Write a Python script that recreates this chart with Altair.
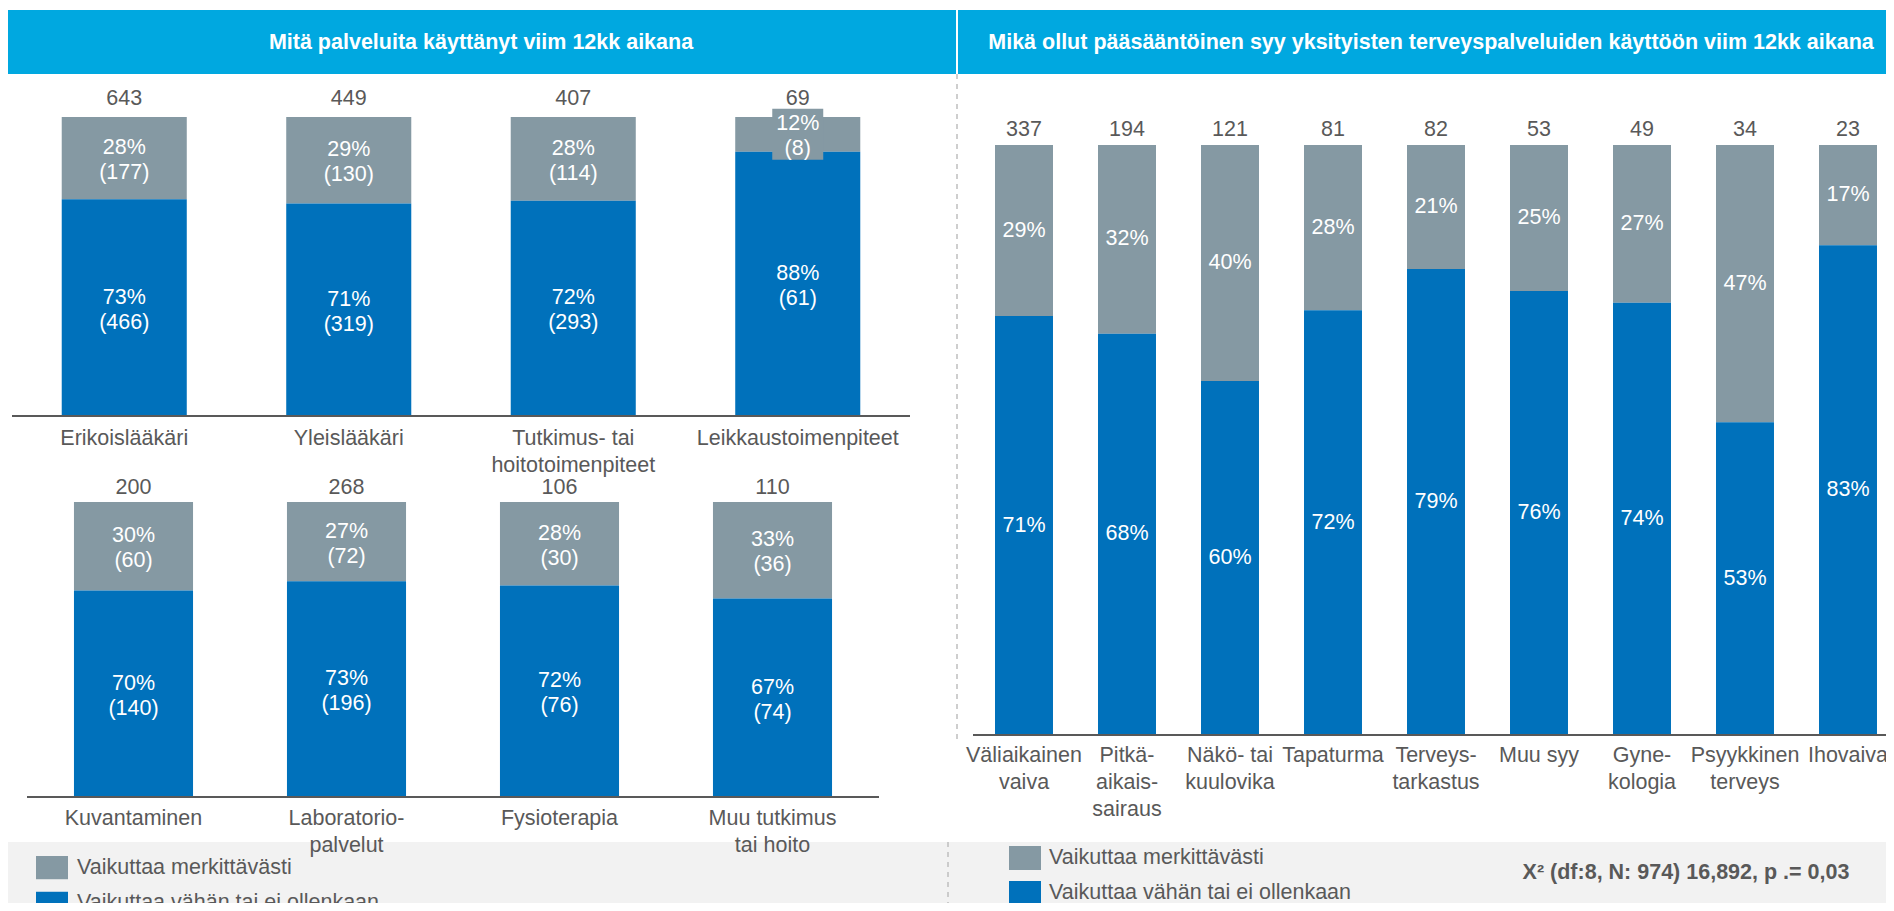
import altair as alt
import pandas as pd

# ---------------- data ----------------
SIG = "Vaikuttaa merkittävästi"
LOW = "Vaikuttaa vähän tai ei ollenkaan"
series_names = [SIG, LOW]

header_titles = [
    "Mitä palveluita käyttänyt viim 12kk aikana",
    "Mikä ollut pääsääntöinen syy yksityisten terveyspalveluiden käyttöön viim 12kk aikana",
]
chi_text = "X² (df:8, N: 974) 16,892, p .= 0,03"

top_cats = ["Erikoislääkäri", "Yleislääkäri", "Tutkimus- tai\nhoitotoimenpiteet", "Leikkaustoimenpiteet"]
top_totals = [643, 449, 407, 69]
top_sig_pct = [28, 29, 28, 12]
top_sig_n = [177, 130, 114, 8]
top_low_pct = [73, 71, 72, 88]
top_low_n = [466, 319, 293, 61]

bot_cats = ["Kuvantaminen", "Laboratorio-\npalvelut", "Fysioterapia", "Muu tutkimus\ntai hoito"]
bot_totals = [200, 268, 106, 110]
bot_sig_pct = [30, 27, 28, 33]
bot_sig_n = [60, 72, 30, 36]
bot_low_pct = [70, 73, 72, 67]
bot_low_n = [140, 196, 76, 74]

right_cats = ["Väliaikainen\nvaiva", "Pitkä-\naikais-\nsairaus", "Näkö- tai\nkuulovika", "Tapaturma",
              "Terveys-\ntarkastus", "Muu syy", "Gyne-\nkologia", "Psyykkinen\nterveys", "Ihovaiva"]
right_totals = [337, 194, 121, 81, 82, 53, 49, 34, 23]
right_sig_pct = [29, 32, 40, 28, 21, 25, 27, 47, 17]
right_low_pct = [71, 68, 60, 72, 79, 76, 74, 53, 83]

# ---------------- style ----------------
FONT = "Liberation Sans"
GRAY = "#8599A3"
BLUE = "#0071BB"
HEAD = "#00A8E0"
TXT = "#595959"
FS = 21.5
cscale = alt.Scale(domain=series_names, range=[GRAY, BLUE])
ONE = alt.Data(values=[{}])


def group(cats, totals, sig_v, low_v, sig_lab, low_lab, xrange, pinner, yrange,
          axis_x, tot_dy, lab_dy, lab_lh, seg_dy):
    rows = []
    for i, c in enumerate(cats):
        rows.append({"cat": c, "series": SIG, "ord": 1, "v": sig_v[i], "label": sig_lab[i]})
        rows.append({"cat": c, "series": LOW, "ord": 0, "v": low_v[i], "label": low_lab[i]})
    df = pd.DataFrame(rows)
    X = alt.X("cat:N", sort=cats, axis=None,
              scale=alt.Scale(range=xrange, paddingInner=pinner, paddingOuter=pinner / 2))
    ysc = alt.Scale(domain=[0, 1], range=yrange, nice=False)

    bars = alt.Chart(df).mark_bar().encode(
        x=X,
        y=alt.Y("v:Q", stack="normalize", scale=ysc, axis=None),
        color=alt.Color("series:N", scale=cscale, legend=None),
        order=alt.Order("ord:Q"),
    )
    stacked = alt.Chart(df).transform_stack(
        stack="v", groupby=["cat"], as_=["s0", "s1"], offset="normalize",
        sort=[alt.SortField("ord", order="ascending")],
    ).transform_calculate(mid="(datum.s0 + datum.s1) / 2", share="datum.s1 - datum.s0")
    box = stacked.transform_filter("datum.ord == 1 && datum.share < 0.15").mark_square(
        size=2600, color=GRAY, opacity=1, filled=True
    ).encode(x=X, y=alt.Y("mid:Q", scale=ysc, axis=None))
    seg = stacked.mark_text(color="white", fontSize=FS, font=FONT, lineBreak="\n", lineHeight=25,
                            dy=seg_dy).encode(
        x=X, y=alt.Y("mid:Q", scale=ysc, axis=None), text="label:N"
    )
    tot = alt.Chart(pd.DataFrame({"cat": cats, "total": totals})).mark_text(
        fontSize=FS, font=FONT, color=TXT, dy=tot_dy
    ).encode(x=X, y=alt.Y(datum=1), text="total:Q")
    lab = alt.Chart(pd.DataFrame({"cat": cats})).mark_text(
        fontSize=FS, font=FONT, color=TXT, baseline="top", dy=lab_dy, lineBreak="\n", lineHeight=lab_lh
    ).encode(x=X, y=alt.Y(datum=0), text="cat:N")
    rule = alt.Chart(ONE).mark_rule(color=TXT, strokeWidth=2).encode(
        x=alt.value(axis_x[0]), x2=alt.value(axis_x[1]), y=alt.Y(datum=0)
    )
    return alt.layer(bars, box, seg, tot, rule, lab)


def two_line(p, n):
    return [f"{a}%\n({b})" for a, b in zip(p, n)]


top_group = group(top_cats, top_totals, top_sig_n, top_low_n,
                  two_line(top_sig_pct, top_sig_n), two_line(top_low_pct, top_low_n),
                  [4, 902], 0.443, [408, 109], [4, 902], -18, 12, 27, -10)
bot_group = group(bot_cats, bot_totals, bot_sig_n, bot_low_n,
                  two_line(bot_sig_pct, bot_sig_n), two_line(bot_low_pct, bot_low_n),
                  [19, 871], 0.441, [789, 494], [19, 871], -14, 11, 27, -10)
right_group = group(right_cats, right_totals, right_sig_pct, right_low_pct,
                    [f"{p}%" for p in right_sig_pct], [f"{p}%" for p in right_low_pct],
                    [964.5, 1891.5], 0.437, [727, 137], [965, 1878], -15, 10, 27, 0)

# ---------------- decorations ----------------
def rect(x, x2, y, y2, color):
    return alt.Chart(ONE).mark_rect(color=color).encode(
        x=alt.value(x), x2=alt.value(x2), y=alt.value(y), y2=alt.value(y2))


def vdash(x, y, y2):
    return alt.Chart(ONE).mark_rule(color="#BFBFBF", strokeWidth=1.5, strokeDash=[5, 5]).encode(
        x=alt.value(x), y=alt.value(y), y2=alt.value(y2))


def htext(txt, x, y):
    return alt.Chart(ONE).mark_text(text=txt, font=FONT, fontSize=21.5, fontWeight="bold",
                                    color="white").encode(x=alt.value(x), y=alt.value(y))


bg_layers = [
    rect(0, 948, 2, 66, HEAD),
    rect(950, 1878, 2, 66, HEAD),
    rect(0, 1878, 834, 895, "#F2F2F2"),
    vdash(949, 66, 734),
    vdash(940, 834, 895),
    htext(header_titles[0], 473, 35),
    htext(header_titles[1], 1423, 35),
]


def legend(x_box, x_text, yrange, pinner):
    ldf = pd.DataFrame({"series": series_names})
    Y = alt.Y("series:N", sort=series_names, axis=None,
              scale=alt.Scale(range=yrange, paddingInner=pinner, paddingOuter=0))
    boxes = alt.Chart(ldf).mark_rect().encode(
        x=alt.value(x_box[0]), x2=alt.value(x_box[1]), y=Y,
        color=alt.Color("series:N", scale=cscale, legend=None))
    texts = alt.Chart(ldf).mark_text(align="left", font=FONT, fontSize=FS, color=TXT).encode(
        x=alt.value(x_text), y=Y, text="series:N")
    return alt.layer(boxes, texts)


leg_left = legend([28, 60], 69, [848, 907], 0.35)
leg_right = legend([1001, 1033], 1041, [838, 897], 0.314)

chi = alt.Chart(ONE).mark_text(text=chi_text, font=FONT, fontSize=FS, fontWeight="bold",
                               color=TXT).encode(x=alt.value(1678), y=alt.value(865))

chart = alt.layer(
    *bg_layers, leg_left, leg_right, chi, top_group, bot_group, right_group
).resolve_scale(x="independent", y="independent").properties(
    width=1878, height=895, padding=0, autosize="none", background="white"
).configure_view(stroke=None)

chart.save("out.html", embed_options={"renderer": "svg", "actions": False})
